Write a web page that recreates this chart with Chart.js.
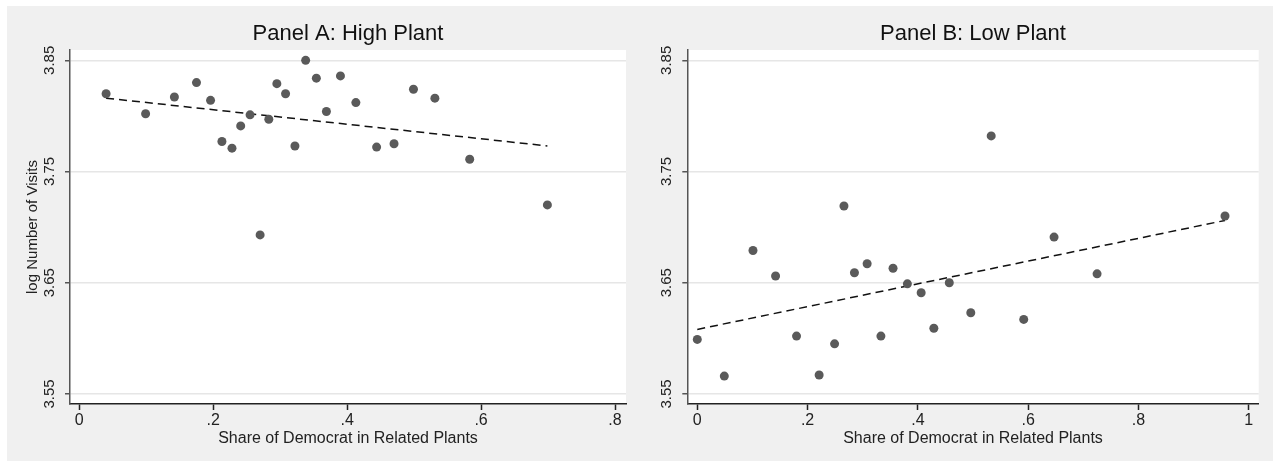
<!DOCTYPE html>
<html>
<head>
<meta charset="utf-8">
<title>Panel A / Panel B</title>
<script src="https://cdn.jsdelivr.net/npm/chart.js@4.4.1/dist/chart.umd.min.js"></script>
<style>
  html, body { margin: 0; padding: 0; background: #fff; }
  #wrap { position: absolute; left: 7px; top: 6px; width: 1266px; height: 455px; background: #f0f0f0; }
  canvas { position: absolute; top: 0; }
  #panelA { left: 0; }
  #panelB { left: 633px; }
</style>
</head>
<body>
<div id="wrap">
  <canvas id="panelA" width="633" height="455"></canvas>
  <canvas id="panelB" width="633" height="455"></canvas>
</div>
<script>
const yTicks = [3.55, 3.65, 3.75, 3.85];
const yTickLabels = ["3.55", "3.65", "3.75", "3.85"];
const xTicksA = [0, 0.2, 0.4, 0.6, 0.8];
const xTickLabelsA = ["0", ".2", ".4", ".6", ".8"];
const xTicksB = [0, 0.2, 0.4, 0.6, 0.8, 1];
const xTickLabelsB = ["0", ".2", ".4", ".6", ".8", "1"];

// Panel A: High Plant
const shareA = [0.040, 0.099, 0.142, 0.175, 0.196, 0.213, 0.228, 0.241, 0.255, 0.283, 0.270, 0.295, 0.308,
  0.322, 0.338, 0.354, 0.369, 0.390, 0.413, 0.444, 0.470, 0.499, 0.531, 0.583, 0.699];
const visitsA = [3.820, 3.802, 3.817, 3.830, 3.814, 3.777, 3.771, 3.791, 3.801, 3.797, 3.693, 3.829, 3.820,
  3.773, 3.850, 3.834, 3.804, 3.836, 3.812, 3.772, 3.775, 3.824, 3.816, 3.761, 3.720];
const fitShareA = [0.040, 0.699];
const fitVisitsA = [3.816, 3.773];

// Panel B: Low Plant
const shareB = [0.000, 0.049, 0.101, 0.142, 0.180, 0.221, 0.249, 0.266, 0.285, 0.308, 0.333, 0.355, 0.381,
  0.406, 0.429, 0.457, 0.496, 0.533, 0.592, 0.647, 0.725, 0.957];
const visitsB = [3.599, 3.566, 3.679, 3.656, 3.602, 3.567, 3.595, 3.719, 3.659, 3.667, 3.602, 3.663, 3.649,
  3.641, 3.609, 3.650, 3.623, 3.782, 3.617, 3.691, 3.658, 3.710];
const fitShareB = [0.000, 0.957];
const fitVisitsB = [3.608, 3.706];

Chart.defaults.font.family = "'Liberation Sans', Arial, sans-serif";

const plotBg = {
  id: "plotBg",
  beforeDraw(chart) {
    const { ctx, chartArea: a } = chart;
    ctx.save();
    ctx.fillStyle = "#ffffff";
    ctx.fillRect(a.left, a.top, a.right - a.left, a.bottom - a.top);
    ctx.restore();
  },
};

function toPoints(xs, ys) {
  return xs.map((x, i) => ({ x: x, y: ys[i] }));
}

function makePanel(id, title, xs, ys, fitXs, fitYs, xTicks, xLabels, xMin, xMax, yWidth, rightPad, yTitle) {
  return new Chart(document.getElementById(id), {
    type: "scatter",
    data: {
      datasets: [
        {
          data: toPoints(xs, ys),
          backgroundColor: "#5a5a5a",
          borderWidth: 0,
          pointRadius: 4.5,
        },
        {
          data: toPoints(fitXs, fitYs),
          showLine: true,
          borderColor: "#111111",
          borderWidth: 1.5,
          borderDash: [8, 5],
          pointRadius: 0,
        },
      ],
    },
    options: {
      responsive: false,
      animation: false,
      events: [],
      layout: { padding: { left: 0, right: rightPad, top: 0, bottom: 0 } },
      plugins: {
        legend: { display: false },
        tooltip: { enabled: false },
        title: {
          display: true,
          text: title,
          fullSize: false,
          color: "#111",
          font: { size: 22, weight: "normal" },
          padding: { top: 14.3, bottom: 3.3 },
        },
      },
      scales: {
        x: {
          type: "linear",
          min: xMin,
          max: xMax,
          afterBuildTicks: (s) => { s.ticks = xTicks.map((v) => ({ value: v })); },
          afterFit: (s) => { s.height = 57; },
          border: { color: "#222", width: 1.5 },
          grid: { drawOnChartArea: false, tickLength: 6, tickColor: "#222", tickWidth: 1.5 },
          ticks: {
            color: "#222",
            font: { size: 16 },
            padding: 1,
            maxRotation: 0,
            autoSkip: false,
            callback: (v, i) => xLabels[i],
          },
          title: {
            display: true,
            text: "Share of Democrat in Related Plants",
            color: "#222",
            font: { size: 16 },
            padding: { top: 0, bottom: 12.4 },
          },
        },
        y: {
          min: 3.5409,
          max: 3.8593,
          afterBuildTicks: (s) => { s.ticks = yTicks.map((v) => ({ value: v })); },
          afterFit: (s) => { s.width = yWidth; },
          border: { color: "#555", width: 1.5 },
          grid: { color: "#e6e6e6", lineWidth: 1.5, tickLength: 5, tickColor: "#555", tickWidth: 1.5 },
          ticks: {
            color: "#222",
            font: { size: 15 },
            minRotation: 90,
            maxRotation: 90,
            crossAlign: "center",
            padding: 1,
            callback: (v, i) => yTickLabels[i],
          },
          title: {
            display: !!yTitle,
            text: yTitle || "",
            color: "#222",
            font: { size: 15 },
            padding: { top: 17, bottom: 0 },
          },
        },
      },
    },
    plugins: [plotBg],
  });
}

makePanel("panelA", "Panel A: High Plant", shareA, visitsA, fitShareA, fitVisitsA,
  xTicksA, xTickLabelsA, -0.0139, 0.8164, 63, 14, "log Number of Visits");
makePanel("panelB", "Panel B: Low Plant", shareB, visitsB, fitShareB, fitVisitsB,
  xTicksB, xTickLabelsB, -0.0181, 1.0181, 47.3, 14.3, null);
</script>
</body>
</html>
